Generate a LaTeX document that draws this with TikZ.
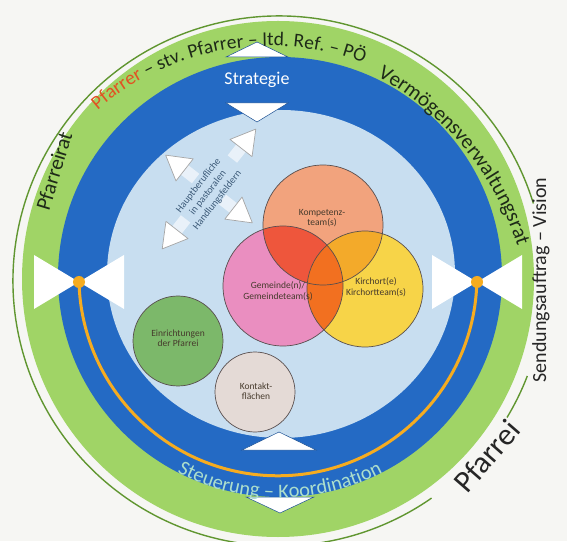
\documentclass[tikz,border=0pt]{standalone}
\usepackage{fontspec}
\setmainfont{Carlito}
\usetikzlibrary{positioning,decorations.text}
\definecolor{paper}{RGB}{246,246,243}
\definecolor{rimgreen}{RGB}{96,150,48}
\definecolor{bandgreen}{RGB}{160,212,102}
\definecolor{ringblue}{RGB}{36,106,196}
\definecolor{coreblue}{RGB}{200,222,240}
\definecolor{arcorange}{RGB}{246,172,32}
\definecolor{bandink}{RGB}{30,42,24}
\definecolor{pfred}{RGB}{226,82,34}
\definecolor{mint}{RGB}{172,222,204}
\definecolor{kompcol}{RGB}{242,163,125}
\definecolor{gemcol}{RGB}{234,142,192}
\definecolor{kirchcol}{RGB}{247,212,72}
\definecolor{kgcol}{RGB}{238,86,60}
\definecolor{kkcol}{RGB}{243,170,42}
\definecolor{gkcol}{RGB}{242,112,32}
\definecolor{einrcol}{RGB}{124,184,106}
\definecolor{kontcol}{RGB}{228,218,214}
\definecolor{circline}{RGB}{88,78,78}
\definecolor{inktext}{RGB}{70,58,44}
\definecolor{arrowink}{RGB}{60,90,120}

\newcommand\bandfont{\fontsize{20.5}{20.5}\selectfont}

\tikzset{
  venn/.style={circle,inner sep=0pt,minimum size=#1},
  inlabel/.style={font=\fontsize{9.5}{10.5}\selectfont,text=inktext,align=center},
  bandlabel/.style={font=\bandfont,text=bandink,inner sep=0pt},
  flap/.style={fill=white,draw=ringblue!75!black,line width=0.5pt},
  bowtie/.style={fill=white},
  headtip/.style={fill=white,draw=gray!70,line width=0.7pt,line join=round},
}

\begin{document}
\begin{tikzpicture}[x=1pt,y=1pt]
\useasboundingbox (0,0) rectangle (567,541);
\clip (0,0) rectangle (567,541);
\fill[paper] (0,0) rectangle (567,541);
% rings, outside in
\draw[rimgreen,line width=1.4pt] (279,260) ++(17:266 and 265) arc[start angle=17,end angle=305,x radius=266,y radius=265];
\draw[rimgreen,line width=1.4pt] (279,260) ++(-31:266 and 265) arc[start angle=-31,end angle=-21,x radius=266,y radius=265];
\fill[bandgreen] (278,262) ellipse [x radius=256,y radius=258];
\fill[ringblue] (280,264) ellipse [x radius=222,y radius=220];
\fill[coreblue] (281,267) ellipse [x radius=174,y radius=164];

% white flaps top and bottom
\filldraw[flap] (226,484) -- (257,499) -- (288,484) -- cycle;
\filldraw[flap] (226,438) -- (257,419) -- (288,438) -- cycle;
\filldraw[flap] (242,91) -- (279,109) -- (316,91) -- cycle;
\filldraw[flap] (246,44) -- (280,28) -- (314,44) -- cycle;

% side markers and the orange arc
\coordinate (dotL) at (79,259);
\coordinate (dotR) at (477,259);
\foreach \p in {dotL,dotR}
  \foreach \s in {-1,1}
    \fill[bowtie] (\p) -- ++(\s*45,27) -- ++(0,-54) -- cycle;
\draw[arcorange,line width=3pt] (dotL) arc[start angle=181.5,end angle=358.5,radius=199];
\fill[arcorange] (dotL) circle (6pt) (dotR) circle (6pt);

% texts on the rings
\path[decorate,decoration={text along path,text align=center,
  text={|\fontsize{19.5}{19.5}\selectfont\color{pfred}|Pfarrer|\fontsize{19.5}{19.5}\selectfont\color{bandink}| – stv. Pfarrer – ltd. Ref. – PÖ}}]
  (270,231) ++(133:264) arc[start angle=133,end angle=67,radius=264];
\path[decorate,decoration={text along path,text align=center,
  text={|\fontsize{21}{21}\selectfont\color{bandink}|Vermögensverwaltungsrat}}]
  (233,203) ++(68:299) arc[start angle=68,end angle=11,radius=299];
\path[decorate,decoration={text along path,text align=center,
  text={|\bandfont\color{mint}|Steuerung – Koordination}}]
  (280,264) ++(232:221) arc[start angle=232,end angle=308,radius=221];
\node[bandlabel,font=\fontsize{21}{21}\selectfont,rotate=73] (prat) at (54,370) {Pfarreirat};
\node[bandlabel,font=\fontsize{20}{20}\selectfont,text=black!85,rotate=90] (send) at (541,261) {Sendungsauftrag – Vision};
\node[font=\fontsize{31}{31}\selectfont,text=black!85,rotate=49,inner sep=0pt] (pfarrei) at (487,85) {Pfarrei};
\node[font=\fontsize{18}{18}\selectfont,text=white] (strat) at (257,461) {Strategie};

% Venn circles
\node[venn=120pt,fill=kompcol] (komp) at (323,316) {};
\node[venn=120pt,fill=gemcol] (gem) at (283,255) {};
\node[venn=116pt,fill=kirchcol] (kirch) at (365,252) {};
\begin{scope}
\clip (komp.center) circle (60pt);
\fill[kgcol] (gem.center) circle (60pt);
\fill[kkcol] (kirch.center) circle (58pt);
\end{scope}
\begin{scope}
\clip (gem.center) circle (60pt);
\fill[gkcol] (kirch.center) circle (58pt);
\end{scope}
\foreach \c/\r in {komp/60,gem/60,kirch/58}
  \draw[circline,line width=0.7pt] (\c.center) circle (\r pt);
\node[venn=90pt,fill=einrcol,draw=circline,line width=0.7pt] (einr) at (178,200) {};
\node[venn=80pt,fill=kontcol,draw=circline,line width=0.7pt] (kont) at (255,149) {};

\node[inlabel] (kompl) at (322,323) {Kompetenz-\\team(s)};
\node[inlabel] (geml) at (278,250) {Gemeinde(n)/\\Gemeindeteam(s)};
\node[inlabel] (kirchl) at (376,254) {Kirchort(e)\\Kirchortteam(s)};
\node[inlabel] (einrl) at (178,203) {Einrichtungen\\der Pfarrei};
\node[inlabel] (kontl) at (256,150) {Kontakt-\\flächen};

% four-way arrow heads
\begin{scope}[shift={(209,352)},rotate=52]
\foreach \a/\d in {0/76,90/55,180/76,270/55}{
  \begin{scope}[rotate=\a]
  \fill[white,fill opacity=0.6] ({\d-38},-6) rectangle ({\d-22},6);
  \filldraw[headtip] (\d,0) -- ({\d-24},14) -- ({\d-24},-14) -- cycle;
  \end{scope}}
\end{scope}
\node[font=\fontsize{10}{12}\selectfont,text=arrowink,align=center,rotate=52] (haupt) at (208,348) {Hauptberufliche\\in pastoralen\\Handlungsfeldern};
\end{tikzpicture}
\end{document}
